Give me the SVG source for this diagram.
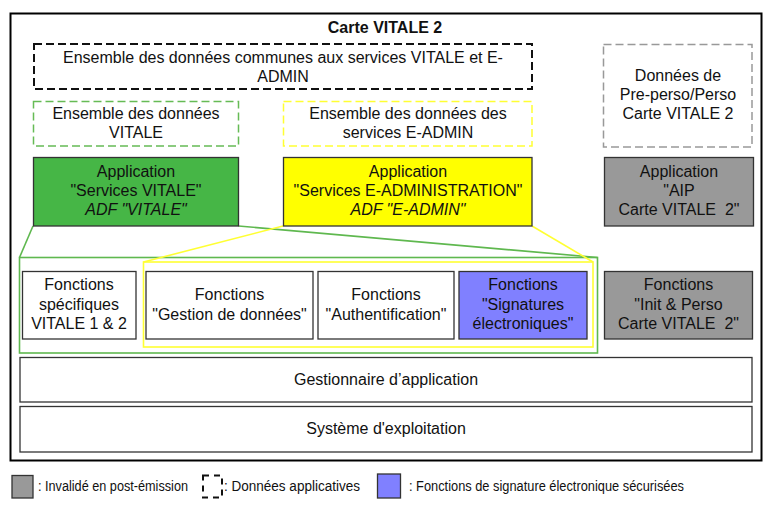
<svg xmlns="http://www.w3.org/2000/svg" width="774" height="508" viewBox="0 0 774 508">
<style>
text{font-family:"Liberation Sans",Arial,sans-serif;font-size:16px;fill:#111;text-anchor:middle}
.box{stroke:#333;stroke-width:1.3}
.white{fill:#fff}
.grey{fill:#999}
.blue{fill:#8080ff}
.dash{fill:none;stroke-dasharray:8 4}
.leg{font-size:14px;text-anchor:start}
</style>
<rect width="774" height="508" fill="#fff"/>
<g id="carte">
<rect x="10.5" y="13.5" width="751" height="447" fill="none" stroke="#000" stroke-width="2"/>
<text x="385" y="33" font-weight="bold">Carte VITALE 2</text>
</g>
<g id="connectors" fill="none">
<rect x="19.5" y="257.5" width="578" height="95.5" stroke="#5fb84f" stroke-width="1.6"/>
<rect x="143.5" y="262" width="449.5" height="85" stroke="#ffff33" stroke-width="1.6"/>
<line x1="33" y1="226" x2="19.5" y2="257.5" stroke="#5fb84f" stroke-width="1.6"/>
<line x1="238.5" y1="226" x2="597.5" y2="257.5" stroke="#5fb84f" stroke-width="1.6"/>
<line x1="283" y1="226" x2="143.5" y2="262" stroke="#ffff33" stroke-width="1.6"/>
<line x1="532" y1="226" x2="593" y2="262" stroke="#ffff33" stroke-width="1.6"/>
</g>
<g id="donnees-communes">
<rect x="34" y="44" width="498" height="45" class="dash" stroke="#111" stroke-width="2"/>
<text x="283" y="63">Ensemble des données communes aux services VITALE et E-</text>
<text x="283" y="82">ADMIN</text>
</g>
<g id="donnees-vitale">
<rect x="33.5" y="101.5" width="205" height="44.5" class="dash" stroke="#66bb55" stroke-width="1.5"/>
<text x="136" y="119">Ensemble des données</text>
<text x="136" y="138">VITALE</text>
</g>
<g id="donnees-eadmin">
<rect x="283.5" y="101.5" width="248.5" height="44.5" class="dash" stroke="#ffff33" stroke-width="1.5"/>
<text x="408" y="119">Ensemble des données des</text>
<text x="408" y="138">services E-ADMIN</text>
</g>
<g id="donnees-perso">
<rect x="603.5" y="44.5" width="148.5" height="102.5" class="dash" stroke="#999" stroke-width="1.5"/>
<text x="678" y="81">Données de</text>
<text x="678" y="100">Pre-perso/Perso</text>
<text x="678" y="119">Carte VITALE 2</text>
</g>
<g id="app-vitale">
<rect x="33.5" y="157.5" width="205" height="68.5" class="box" fill="#46b646"/>
<text x="136" y="177">Application</text>
<text x="136" y="196">"Services VITALE"</text>
<text x="136" y="215" font-style="italic">ADF "VITALE"</text>
</g>
<g id="app-eadmin">
<rect x="283.5" y="157.5" width="248.5" height="68.5" class="box" fill="#ffff00"/>
<text x="408" y="177">Application</text>
<text x="408" y="196">"Services E-ADMINISTRATION"</text>
<text x="408" y="215" font-style="italic">ADF "E-ADMIN"</text>
</g>
<g id="app-aip">
<rect x="604.5" y="157.5" width="149" height="68.5" class="box grey"/>
<text x="679" y="177">Application</text>
<text x="679" y="196">"AIP</text>
<text x="679" y="215">Carte VITALE&#160; 2"</text>
</g>
<g id="fn-vitale">
<rect x="22.5" y="271.5" width="113.5" height="67.5" class="box white"/>
<text x="79" y="290">Fonctions</text>
<text x="79" y="309.5">spécifiques</text>
<text x="79" y="329">VITALE 1 &amp; 2</text>
</g>
<g id="fn-gestion">
<rect x="146" y="271.5" width="167" height="67.5" class="box white"/>
<text x="229.5" y="300">Fonctions</text>
<text x="229.5" y="320">"Gestion de données"</text>
</g>
<g id="fn-auth">
<rect x="318" y="271.5" width="136" height="67.5" class="box white"/>
<text x="386" y="300">Fonctions</text>
<text x="386" y="320">"Authentification"</text>
</g>
<g id="fn-signature">
<rect x="459" y="271.5" width="128" height="67.5" class="box blue"/>
<text x="523" y="290">Fonctions</text>
<text x="523" y="309.5">"Signatures</text>
<text x="523" y="329">électroniques"</text>
</g>
<g id="fn-init">
<rect x="604.5" y="271.5" width="148" height="67.5" class="box grey"/>
<text x="678.5" y="290">Fonctions</text>
<text x="678.5" y="309.5">"Init &amp; Perso</text>
<text x="678.5" y="329">Carte VITALE&#160; 2"</text>
</g>
<g id="gestionnaire">
<rect x="20" y="357.5" width="732" height="44.5" class="box white"/>
<text x="386" y="385">Gestionnaire d’application</text>
</g>
<g id="systeme">
<rect x="20" y="406.5" width="732" height="45.5" class="box white"/>
<text x="386" y="434">Système d'exploitation</text>
</g>
<g id="legende">
<rect x="12" y="475.5" width="21" height="22.5" class="box grey"/>
<text class="leg" x="38" y="491" textLength="150" lengthAdjust="spacingAndGlyphs">: Invalidé en post-émission</text>
<rect x="203" y="475.5" width="19" height="22" fill="none" stroke="#111" stroke-width="2" stroke-dasharray="6 5"/>
<text class="leg" x="224" y="491" textLength="136" lengthAdjust="spacingAndGlyphs">: Données applicatives</text>
<rect x="377.5" y="474" width="23" height="24" class="box blue"/>
<text class="leg" x="409" y="491" textLength="275" lengthAdjust="spacingAndGlyphs">: Fonctions de signature électronique sécurisées</text>
</g>
</svg>
